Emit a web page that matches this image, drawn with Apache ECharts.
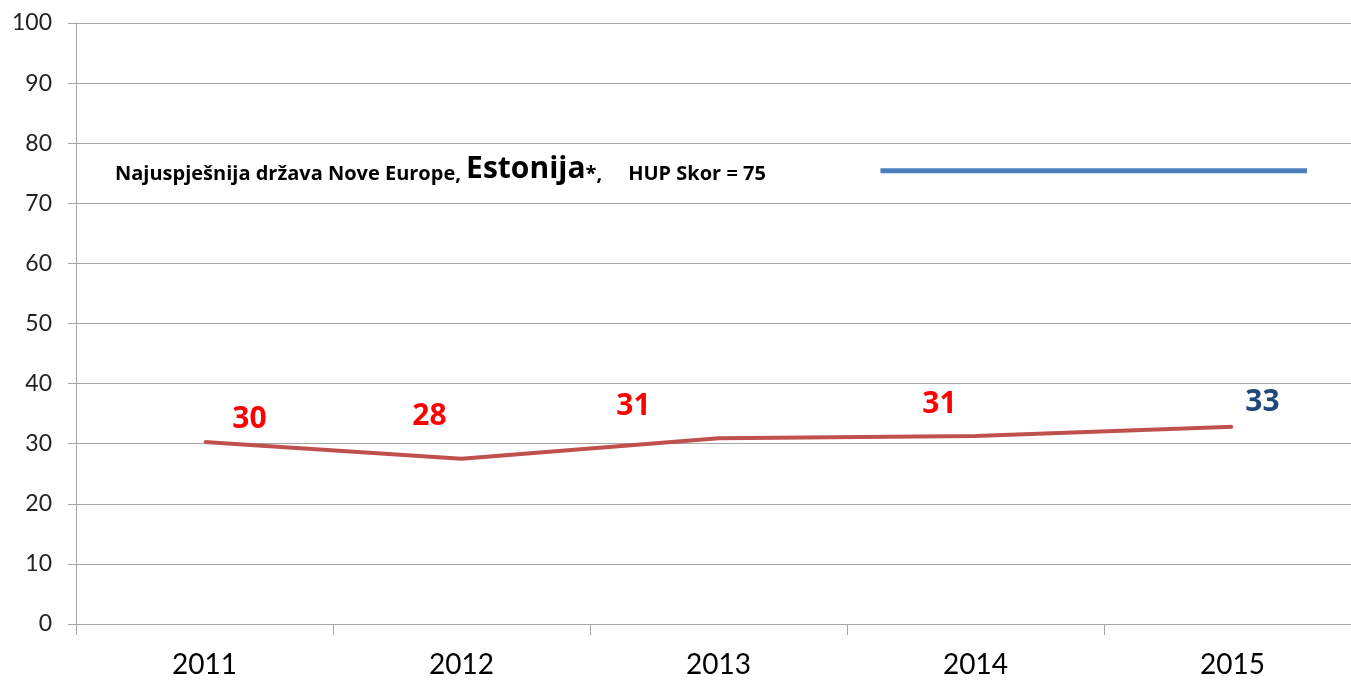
<!DOCTYPE html>
<html><head><meta charset="utf-8">
<script src="https://cdn.jsdelivr.net/npm/echarts@6/dist/echarts.min.js"></script>
<style>html,body{margin:0;padding:0;background:#fff}#c{width:1351px;height:681px}</style>
</head><body><div id="c"></div>
<script>
const categories = ['2011','2012','2013','2014','2015'];
const hupValues = [30.3, 27.5, 30.9, 31.3, 32.8];
const hupLabels = ['30','28','31','31','33'];
const estoniaScore = 75.4;
const estoniaSpan = [3.13, 4.79];
const yTicks = [0,10,20,30,40,50,60,70,80,90,100];

const labelOffsets = [[45,-22],[-32,-42],[-85,-32],[-36,-31],[30,-24]];
const labelColors = ['#FF0000','#FF0000','#FF0000','#FF0000','#1F497D'];

const chart = echarts.init(document.getElementById('c'));
const font = 'Lato, "Open Sans", sans-serif';
const symSize = 2;
chart.setOption({
  animation:false,
  grid:{left:76, top:23, bottom:57, width:1285, containLabel:false, outerBoundsMode:'none'},
  xAxis:[{
    type:'category', data:categories, boundaryGap:true,
    axisLine:{lineStyle:{color:'#A6A6A6', width:1}},
    axisTick:{show:true, length:11, lineStyle:{color:'#A6A6A6'}},
    axisLabel:{fontSize:28, color:'#000', margin:27, fontFamily:font}
  },{
    type:'value', min:0, max:5, show:false
  }],
  yAxis:{
    type:'value', min:0, max:100, interval:10,
    axisLine:{show:true, lineStyle:{color:'#A6A6A6'}},
    axisTick:{show:true, length:8, lineStyle:{color:'#A6A6A6'}},
    splitLine:{lineStyle:{color:'#A6A6A6', width:1}},
    axisLabel:{fontSize:23, color:'#222', margin:24, fontFamily:font,
      formatter:v=> yTicks.includes(v)? String(v):''}
  },
  graphic:[{
    type:'text', left:115, top:154,
    style:{
      text:'{a|Najuspješnija država Nove Europe, }{b|Estonija}{a|*,     HUP Skor = 75}',
      rich:{
        a:{fontSize:20, fontWeight:'bold', fill:'#000', fontFamily:'"Open Sans", sans-serif', verticalAlign:'bottom'},
        b:{fontSize:30, fontWeight:'bold', fill:'#000', fontFamily:'"Open Sans", sans-serif', verticalAlign:'bottom'}
      }
    }
  }],
  series:[{
    type:'line', xAxisIndex:0,
    data:hupValues.map((v,i)=>({value:v, label:{
      show:true, formatter:hupLabels[i],
      position:[symSize/2 + labelOffsets[i][0], symSize/2 + labelOffsets[i][1]],
      align:'center', verticalAlign:'middle',
      color:labelColors[i], fontSize:30, fontWeight:'bold', fontFamily:'"Open Sans", sans-serif'
    }})),
    symbol:'circle', symbolSize:symSize, showSymbol:true,
    itemStyle:{color:'#C0504D'},
    lineStyle:{color:'#C0504D', width:4},
    labelLayout:{hideOverlap:false}
  },{
    type:'line', xAxisIndex:1,
    data:[[estoniaSpan[0], estoniaScore],[estoniaSpan[1], estoniaScore]],
    symbol:'none',
    lineStyle:{color:'#4A7EBB', width:5}
  }]
});
</script></body></html>
